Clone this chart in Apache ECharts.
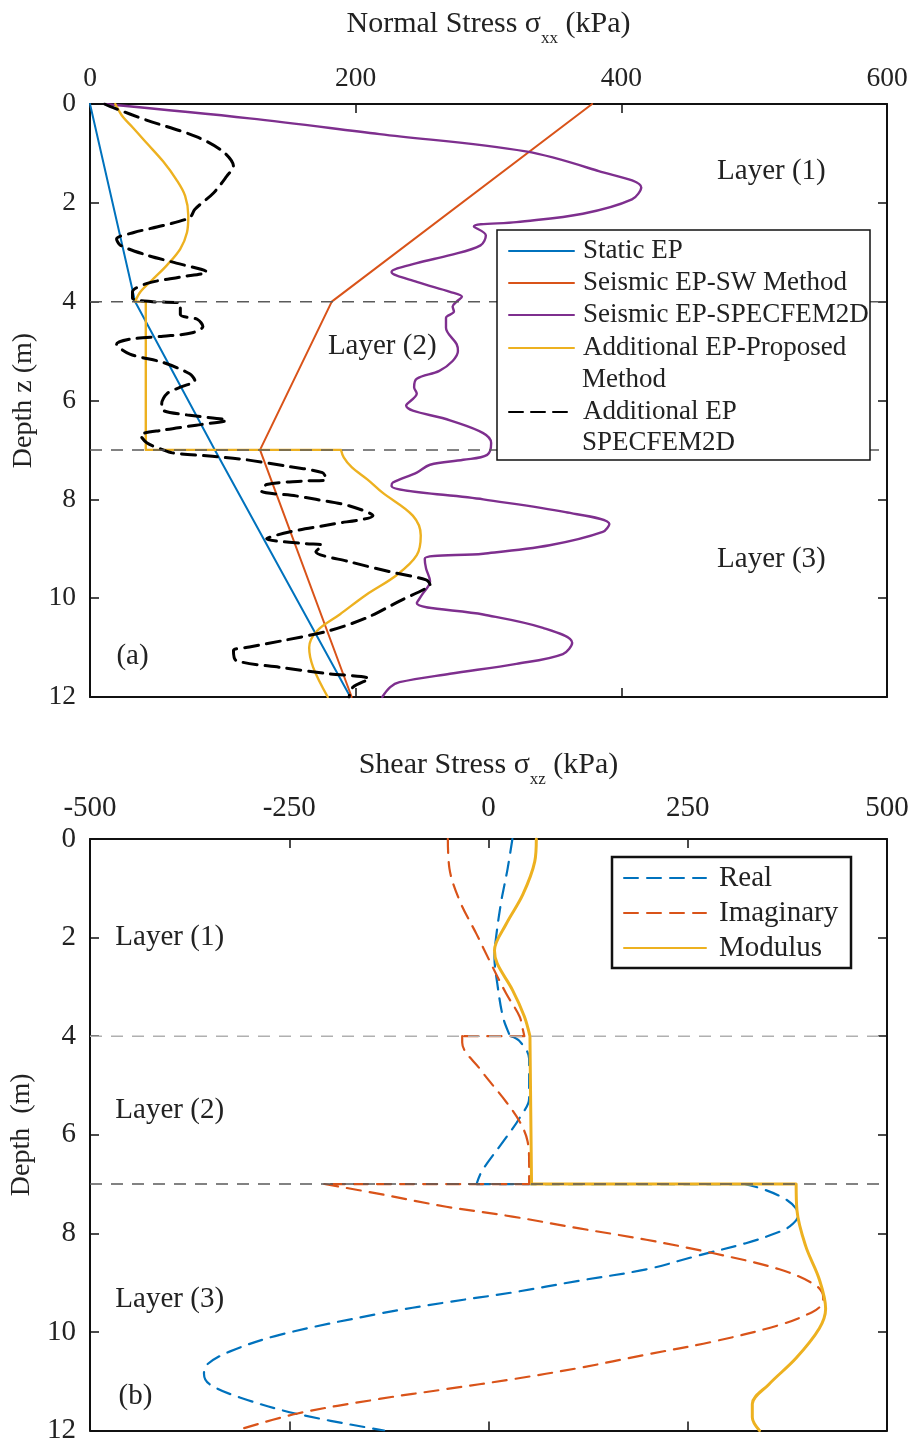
<!DOCTYPE html>
<html>
<head>
<meta charset="utf-8">
<script src="https://cdn.jsdelivr.net/npm/echarts@6.0.0/dist/echarts.min.js"></script>
<style>
  html, body { margin: 0; padding: 0; background: #ffffff; }
  #chart { width: 914px; height: 1445px; }
</style>
</head>
<body>
<div id="chart"></div>
<script>
// ---------- Panel (a): normal stress sigma_xx (kPa) against depth z (m) ----------
// A null entry breaks a curve so that sharp steps stay straight.
const staticDepth = [0, 4, 7, 12];
const staticEP    = [0, 34, 94, 196];

const swDepth = [0, 4, 7, 12];
const swEP    = [378, 182, 128, 197];

const specDepth = [0, 0.29, 0.61, 0.96, 1.36, 1.69, 1.93, 2.22, 2.39, 2.48, 2.66, 2.86, 3.06, 3.22, 3.4, 3.6, 3.8, 3.9, 4.0, 4.1, 4.2, 4.33, 4.53, 4.86, 5.0, 5.2, 5.4, 5.56, 5.73, 5.86, 6.1, 6.4, 6.66, 6.86, 7.1, 7.2, 7.3, 7.46, 7.66, 7.73, 8.0, 8.26, 8.5, 8.66, 8.93, 9.1, 9.2, 9.4, 9.66, 9.93, 10.1, 10.33, 10.6, 10.9, 11.13, 11.33, 11.53, 11.7, 11.8, 12];
const specEP    = [11, 120, 218, 328, 383, 415, 408, 371, 321, 289, 298, 294, 271, 246, 227, 246, 271, 280, 276, 273, 274, 268, 268, 276, 277, 273, 263, 246, 244, 246, 238, 271, 296, 302, 299, 281, 256, 246, 228, 227, 296, 358, 391, 386, 346, 296, 252, 253, 256, 250, 246, 296, 341, 363, 356, 321, 271, 233, 226, 220];

const propDepth = [0, 0.1, 0.27, 0.47, 0.8, 1.16, 1.53, 1.86, 2.26, 2.6, 2.93, 3.26, 3.53, 3.8, 4.0, null, 4.0, 4.0, null, 4.0, 7.0, null, 7.0, 7.0, null, 7.0, 7.15, 7.35, 7.6, 7.86, 8.33, 8.73, 9.13, 9.53, 9.93, 10.33, 10.66, 11.0, 11.4, 12];
const propEP    = [19, 21, 25, 32, 43, 55, 65, 71.6, 74, 73, 68, 58, 48, 38, 34, null, 34, 42, null, 42, 42, null, 42, 189, null, 189, 191, 197, 209, 220, 243, 249, 246, 231, 208, 188, 171, 165, 168, 179];

const addSpecDepth = [0, 0.07, 0.33, 0.66, 0.96, 1.26, 1.46, 1.8, 2.13, 2.3, 2.46, 2.6, 2.73, 2.86, 3.06, 3.22, 3.4, 3.5, 3.63, 3.8, 3.93, 4.0, 4.03, 4.26, 4.36, 4.5, 4.63, 4.7, 4.76, 4.86, 5.06, 5.23, 5.46, 5.6, 5.73, 5.86, 6.06, 6.2, 6.3, 6.4, 6.5, 6.6, 6.7, 6.86, 7.0, 7.06, 7.13, 7.2, 7.33, 7.46, 7.6, 7.63, 7.7, 7.83, 7.93, 8.0, 8.13, 8.33, 8.5, 8.66, 8.8, 8.9, 8.93, 9.06, 9.26, 9.46, 9.63, 9.73, 9.8, 10.06, 10.4, 10.66, 10.86, 10.99, 11.06, 11.26, 11.4, 11.53, 11.63, 11.8, 12];
const addSpecEP    = [11, 17, 43, 80, 100, 108, 103, 93, 79, 75, 55, 33, 20, 23, 43, 65, 88, 68, 43, 32, 32, 47, 68, 68, 81, 85, 77, 55, 30, 20, 30, 55, 75, 79, 68, 58, 54, 55, 75, 103, 80, 55, 38, 43, 55, 62, 92, 118, 148, 175, 178, 160, 133, 129, 155, 170, 195, 213, 183, 150, 133, 163, 175, 170, 195, 225, 253, 256, 253, 233, 208, 180, 145, 120, 108, 110, 143, 180, 210, 198, 195];

// ---------- Panel (b): shear stress sigma_xz (kPa) against depth (m) ----------
const realDepth = [0, 0.6, 0.93, 1.26, 1.93, 2.4, 2.93, 3.6, 3.96, 4.0, null, 4.0, 4.1, 4.46, 5.26, 5.66, 6.06, 6.73, 7.0, null, 7.0, 7.0, null, 7.0, 7.1, 7.3, 7.5, 7.65, 7.86, 8.0, 8.2, 8.46, 8.73, 8.96, 9.2, 9.4, 9.63, 10.06, 10.4, 10.66, 10.85, 11.06, 11.33, 11.66, 12];
const realVal   = [30, 24, 20, 16, 10, 7.5, 11, 18, 26, 28, null, 28, 39, 51, 51, 39, 22, -8, -15, null, -15, 320, null, 320, 344, 372, 386, 388, 378, 360, 323, 261, 198, 114, 30, -53, -137, -262, -325, -353, -357, -350, -312, -241, -131];

const imagDepth = [0, 0.6, 1.26, 1.93, 2.46, 3.13, 3.6, 3.86, 4.0, null, 4.0, 4.0, null, 4.0, 4.13, 4.66, 5.33, 5.73, 6.13, 6.6, 7.0, null, 7.0, 7.0, null, 7.0, 7.2, 7.46, 7.66, 7.9, 8.13, 8.4, 8.73, 9.06, 9.3, 9.45, 9.6, 9.86, 10.2, 10.46, 10.73, 10.96, 11.16, 11.36, 11.66, 12];
const imagVal   = [-51, -49, -36, -15, 1, 22, 39, 43, 45, null, 45, -33, null, -33, -33, -11, 22, 39, 49, 51, 51, null, 51, -206, null, -206, -137, -53, 30, 114, 198, 281, 365, 411, 420, 418, 406, 365, 281, 198, 114, 30, -53, -137, -241, -316];

const modDepth = [0, 0.46, 1.13, 1.73, 2.26, 2.53, 3.06, 3.6, 4.0, null, 4.0, 7.0, null, 7.0, 7.0, null, 7.0, 7.53, 8.26, 8.93, 9.53, 9.93, 10.53, 11.06, 11.46, 11.73, 12];
const modVal   = [60, 58, 43, 22, 7.5, 11, 30, 45, 52, null, 52, 54, null, 54, 386, null, 386, 387, 398, 415, 423, 415, 386, 352, 331, 331, 340];

// Layer interfaces (m) and axis ticks
const layerBounds = [4, 7];
const depthTicks = { min: 0, max: 12, step: 2 };
const normalTicks = { min: 0, max: 600, step: 200 };
const shearTicks = { min: -500, max: 500, step: 250 };

// Text notes: [panel, stress (kPa), depth (m), text]
const notes = [
  [0, 513, 1.36, 'Layer (1)'],
  [0, 220, 4.9, 'Layer (2)'],
  [0, 513, 9.22, 'Layer (3)'],
  [0, 32, 11.18, '(a)'],
  [1, -400, 2.0, 'Layer (1)'],
  [1, -400, 5.5, 'Layer (2)'],
  [1, -400, 9.34, 'Layer (3)'],
  [1, -443, 11.3, '(b)']
];

const FONT = 'Liberation Serif, Times New Roman, serif';
const INK = '#222222';
const C_BLUE = '#0072BD', C_RED = '#D95319', C_YEL = '#EDB120', C_PUR = '#7E2F8E';

function pairs(xs, ds) {
  return xs.map((v, i) => (v === null || ds[i] === null) ? ['-', '-'] : [v, ds[i]]);
}

const chart = echarts.init(document.getElementById('chart'), null, { renderer: 'canvas' });

function axisName(main, sub, tail) {
  return main + '{sub|' + sub + '}' + tail;
}
function nameStyle(size) {
  return {
    fontFamily: FONT, fontSize: size, color: INK, lineHeight: 36,
    rich: { sub: { fontFamily: FONT, fontSize: 17, color: INK, verticalAlign: 'bottom', lineHeight: 46 } }
  };
}
const lineAxis = { onZero: false, lineStyle: { color: '#111', width: 2 } };
const tickIn = { inside: true, length: 9, lineStyle: { color: '#111', width: 1.5 } };

function xPair(grid, t, name, gap, margin, fs) {
  return [
    { type: 'value', gridIndex: grid, position: 'top', min: t.min, max: t.max, interval: t.step,
      axisLine: lineAxis, axisTick: tickIn,
      axisLabel: { margin: margin, fontFamily: FONT, fontSize: fs, color: INK }, splitLine: { show: false },
      name: name, nameLocation: 'middle', nameGap: gap, nameTextStyle: nameStyle(30) },
    { type: 'value', gridIndex: grid, position: 'bottom', min: t.min, max: t.max, interval: t.step,
      axisLine: lineAxis, axisTick: tickIn, axisLabel: { show: false }, splitLine: { show: false } }
  ];
}
function yPair(grid, name, fs) {
  return [
    { type: 'value', gridIndex: grid, position: 'left', inverse: true, min: depthTicks.min, max: depthTicks.max, interval: depthTicks.step,
      axisLine: lineAxis, axisTick: tickIn,
      axisLabel: { margin: 14, fontFamily: FONT, fontSize: fs, color: INK }, splitLine: { show: false },
      name: name, nameLocation: 'middle', nameGap: 50, nameTextStyle: { fontFamily: FONT, fontSize: 28, color: INK } },
    { type: 'value', gridIndex: grid, position: 'right', inverse: true, min: depthTicks.min, max: depthTicks.max, interval: depthTicks.step,
      axisLine: lineAxis, axisTick: tickIn, axisLabel: { show: false }, splitLine: { show: false } }
  ];
}

function curve(name, xs, ds, color, width, dash, smooth, xi, yi, z) {
  return {
    name: name, type: 'line', xAxisIndex: xi, yAxisIndex: yi, data: pairs(xs, ds),
    showSymbol: false, symbol: 'none', smooth: smooth, connectNulls: false, color: color,
    lineStyle: { color: color, width: width, type: dash || 'solid', cap: 'round', join: 'round' },
    z: z || 2, animation: false, silent: true
  };
}

function boundaryLine(xi, yi, t, depth, color) {
  return {
    name: 'boundary', type: 'line', xAxisIndex: xi, yAxisIndex: yi,
    data: [[t.min, depth], [t.max, depth]], symbol: 'none', showSymbol: false,
    lineStyle: { color: color, width: 1.5, type: [12, 9] }, z: 5, animation: false, silent: true
  };
}

function legendAt(name, left, cy, itemWidth, textPad, fs, label) {
  return {
    show: true, data: [name], left: left, top: cy - 16, orient: 'vertical', padding: 0,
    itemWidth: itemWidth, itemHeight: 14, selectedMode: false, z: 110,
    itemStyle: { color: 'rgba(0,0,0,0)', borderWidth: 0, opacity: 0 },
    formatter: () => label || name,
    textStyle: { fontFamily: FONT, fontSize: fs, color: INK, lineHeight: 32, padding: [0, 0, 0, textPad] }
  };
}

const option = {
  backgroundColor: '#ffffff',
  animation: false,
  grid: [
    { left: 90, top: 96, width: 797, height: 601 },
    { left: 90, top: 839, width: 797, height: 601 }
  ],
  xAxis: xPair(0, normalTicks, axisName('Normal Stress σ', 'xx', ' (kPa)'), 57, 11, 27.5)
    .concat(xPair(1, shearTicks, axisName('Shear Stress σ', 'xz', ' (kPa)'), 51, 16, 29)),
  yAxis: yPair(0, 'Depth z (m)', 27.5).concat(yPair(1, 'Depth  (m)', 29)),
  legend: [
    legendAt('Static EP', 508, 251, 65, 4, 27),
    legendAt('Seismic EP-SW Method', 508, 283, 65, 4, 27),
    legendAt('Seismic EP-SPECFEM2D', 508, 315, 65, 4, 27),
    legendAt('Additional EP-Proposed Method', 508, 348, 65, 4, 27, 'Additional EP-Proposed'),
    legendAt('Additional EP SPECFEM2D', 508, 412, 65, 4, 27, 'Additional EP'),
    legendAt('Real', 623, 878, 82, 8, 29),
    legendAt('Imaginary', 623, 913, 82, 8, 29),
    legendAt('Modulus', 623, 948, 82, 8, 29)
  ],
  series: [
    curve('Static EP', staticEP, staticDepth, C_BLUE, 2, null, false, 0, 0),
    curve('Seismic EP-SW Method', swEP, swDepth, C_RED, 2, null, false, 0, 0),
    curve('Seismic EP-SPECFEM2D', specEP, specDepth, C_PUR, 2.4, null, 0.35, 0, 0),
    curve('Additional EP-Proposed Method', propEP, propDepth, C_YEL, 2.4, null, 0.35, 0, 0),
    curve('Additional EP SPECFEM2D', addSpecEP, addSpecDepth, '#000000', 3, [14, 8], 0.3, 0, 0, 3),
    boundaryLine(0, 0, normalTicks, layerBounds[0], '#5a5a5a'),
    boundaryLine(0, 0, normalTicks, layerBounds[1], '#5a5a5a'),

    curve('Real', realVal, realDepth, C_BLUE, 2.2, [14, 9], 0.35, 2, 2),
    curve('Imaginary', imagVal, imagDepth, C_RED, 2.2, [14, 9], 0.35, 2, 2),
    curve('Modulus', modVal, modDepth, C_YEL, 3, null, 0.35, 2, 2),
    boundaryLine(2, 2, shearTicks, layerBounds[0], '#b0b0b0'),
    boundaryLine(2, 2, shearTicks, layerBounds[1], '#5a5a5a')
  ]
};

chart.setOption(option);

// Legend frames and text notes placed after layout
function noteStyle(size) { return { fontFamily: FONT, fontSize: size, fill: INK }; }
const graphics = [
  { type: 'rect', shape: { x: 497, y: 230, width: 373, height: 230 }, z: 100,
    style: { fill: '#ffffff', stroke: '#111', lineWidth: 1.5 } },
  { type: 'rect', shape: { x: 612, y: 857, width: 239, height: 111 }, z: 100,
    style: { fill: '#ffffff', stroke: '#111', lineWidth: 2.5 } },
  { type: 'text', x: 582, y: 380, z: 120,
    style: Object.assign({ text: 'Method', verticalAlign: 'middle' }, noteStyle(27)) },
  { type: 'text', x: 582, y: 443, z: 120,
    style: Object.assign({ text: 'SPECFEM2D', verticalAlign: 'middle' }, noteStyle(27)) }
];
notes.forEach(n => {
  const p = chart.convertToPixel({ gridIndex: n[0] }, [n[1], n[2]]);
  graphics.push({ type: 'text', x: p[0], y: p[1], z: 120,
    style: Object.assign({ text: n[3], align: 'center', verticalAlign: 'middle' }, noteStyle(29)) });
});
chart.setOption({ graphic: graphics });
</script>
</body>
</html>
